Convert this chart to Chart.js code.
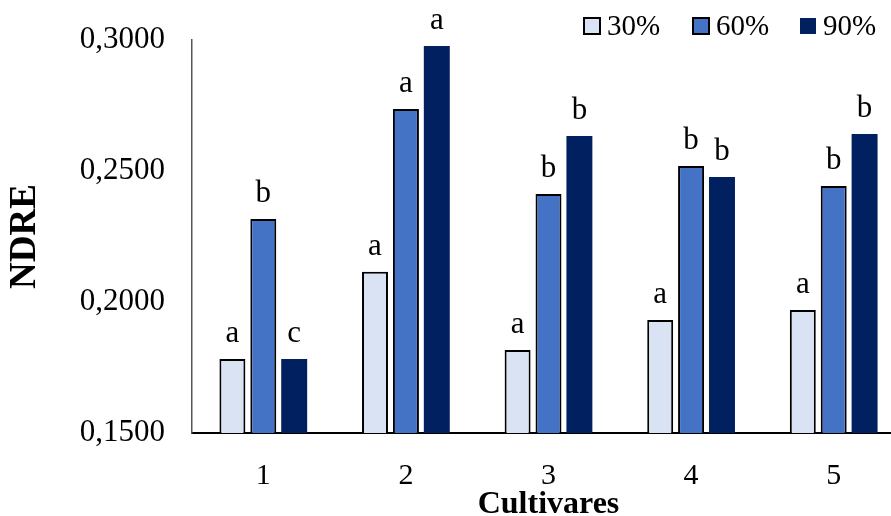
<!DOCTYPE html>
<html>
<head>
<meta charset="utf-8">
<script src="https://cdn.jsdelivr.net/npm/chart.js@4.4.1/dist/chart.umd.min.js"></script>
<style>
  html, body { margin: 0; padding: 0; background: #fff; }
  #wrap { width: 891px; height: 516px; overflow: hidden; }
</style>
</head>
<body>
<div id="wrap"><canvas id="ndreChart" width="905" height="516"></canvas></div>
<script>
// Chart data
const categories = ['1', '2', '3', '4', '5'];
const seriesNames = ['30%', '60%', '90%'];
const ndre30 = [0.1782, 0.2115, 0.1817, 0.1931, 0.1969];
const ndre60 = [0.2317, 0.2737, 0.2412, 0.2519, 0.2443];
const ndre90 = [0.1782, 0.2977, 0.2634, 0.2477, 0.2641];
const letters30 = ['a', 'a', 'a', 'a', 'a'];
const letters60 = ['b', 'a', 'b', 'b', 'b'];
const letters90 = ['c', 'a', 'b', 'b', 'b'];
const yMin = 0.15;
const yMax = 0.30;
const yStep = 0.05;

const fillColors = ['#DAE3F3', '#4472C4', '#002060'];
const edgeColors = ['#000000', '#000000', '#002060'];
const serif = "'Liberation Serif', 'Times New Roman', serif";

// Letters of significance above every bar
const letterPlugin = {
    id: 'letterPlugin',
    afterDatasetsDraw(chart) {
        const ctx = chart.ctx;
        const allLetters = [letters30, letters60, letters90];
        ctx.save();
        ctx.font = '31px ' + serif;
        ctx.fillStyle = '#000';
        ctx.textAlign = 'center';
        ctx.textBaseline = 'alphabetic';
        chart.data.datasets.forEach((ds, i) => {
            const meta = chart.getDatasetMeta(i);
            meta.data.forEach((bar, j) => {
                ctx.fillText(allLetters[i][j], bar.x, bar.y - 17);
            });
        });
        ctx.restore();
    }
};

// Legend in the top right corner
const legendPlugin = {
    id: 'legendPlugin',
    afterDraw(chart) {
        const ctx = chart.ctx;
        const boxX = [584, 693, 800];
        ctx.save();
        ctx.font = '29px ' + serif;
        ctx.textBaseline = 'alphabetic';
        seriesNames.forEach((name, i) => {
            ctx.fillStyle = fillColors[i];
            ctx.fillRect(boxX[i], 18, 16, 16);
            if (i < 2) {
                ctx.strokeStyle = '#000';
                ctx.lineWidth = 2;
                ctx.strokeRect(boxX[i], 18, 16, 16);
            }
            ctx.fillStyle = '#000';
            ctx.fillText(name, boxX[i] + 23, 35);
        });
        ctx.restore();
    }
};

const datasets = [ndre30, ndre60, ndre90].map((values, i) => ({
    label: seriesNames[i],
    data: values,
    backgroundColor: fillColors[i],
    borderColor: edgeColors[i],
    borderWidth: i < 2 ? 2 : 0,
    categoryPercentage: 0.65,
    barPercentage: 0.84
}));

new Chart(document.getElementById('ndreChart'), {
    type: 'bar',
    data: { labels: categories, datasets: datasets },
    plugins: [letterPlugin, legendPlugin],
    options: {
        responsive: false,
        animation: false,
        layout: { padding: { top: 40, left: 0, right: 0, bottom: 0 } },
        plugins: {
            legend: { display: false },
            tooltip: { enabled: false }
        },
        scales: {
            x: {
                grid: { display: false, drawTicks: false },
                border: { display: true, color: '#000', width: 2 },
                ticks: { color: '#000', font: { family: serif, size: 30 }, padding: 25 },
                title: {
                    display: true,
                    text: 'Cultivares',
                    color: '#000',
                    font: { family: serif, size: 32, weight: 'bold', lineHeight: 0.7 },
                    padding: { top: 0, bottom: 0 }
                },
                afterFit(scale) {
                    scale.height = 83;
                    scale.paddingLeft = 0;
                    scale.paddingRight = 0;
                }
            },
            y: {
                min: yMin,
                max: yMax,
                grid: { display: false, drawTicks: false },
                border: { display: true, color: '#555', width: 1.5 },
                ticks: {
                    stepSize: yStep,
                    color: '#000',
                    font: { family: serif, size: 31 },
                    padding: 27,
                    callback: v => v.toFixed(4).replace('.', ',')
                },
                title: {
                    display: true,
                    text: 'NDRE',
                    color: '#000',
                    font: { family: serif, size: 37, weight: 'bold' },
                    padding: { top: 3, bottom: 0 }
                },
                afterFit(scale) {
                    scale.width = 192;
                    scale.paddingTop = 0;
                    scale.paddingBottom = 0;
                }
            }
        }
    }
});
</script>
</body>
</html>
